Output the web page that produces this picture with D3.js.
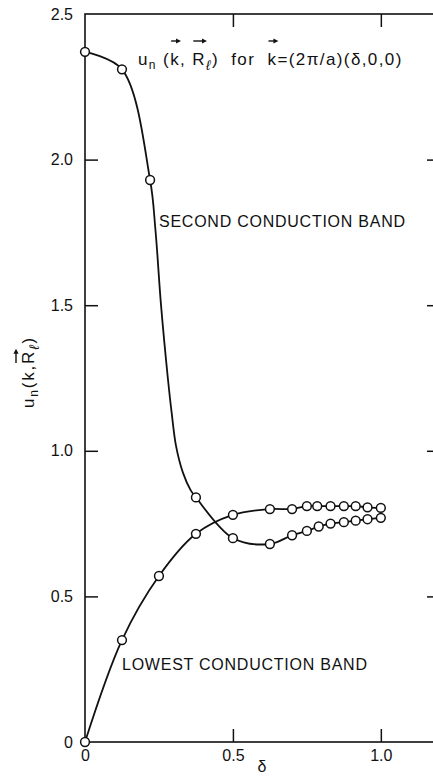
<!DOCTYPE html>
<html>
<head>
<meta charset="utf-8">
<script src="https://cdn.jsdelivr.net/npm/d3@7"></script>
<style>
  html, body { margin: 0; padding: 0; background: #fff; }
  svg { display: block; }
  text, tspan { font-family: "Liberation Sans", Arial, sans-serif; fill: #111; }
</style>
</head>
<body>
<svg id="chart" width="433" height="776"></svg>
<script>
// Reduced wavevector delta (k = (2π/a)(δ,0,0)) and u_n(k, R_l) values
const deltaSecond = [0, 0.125, 0.22, 0.375, 0.5, 0.625, 0.70, 0.75, 0.79, 0.83, 0.875, 0.915, 0.955, 1.0];
const uSecond     = [2.37, 2.31, 1.93, 0.84, 0.70, 0.68, 0.71, 0.725, 0.74, 0.75, 0.755, 0.76, 0.765, 0.77];
const deltaLowest = [0, 0.125, 0.25, 0.375, 0.5, 0.625, 0.70, 0.75, 0.785, 0.83, 0.875, 0.915, 0.955, 1.0];
const uLowest     = [0, 0.35, 0.57, 0.715, 0.78, 0.80, 0.80, 0.81, 0.81, 0.81, 0.81, 0.81, 0.806, 0.804];

// Hand-drawn curve of the second band through its steep drop
const deltaSecondCurve = [0, 0.125, 0.22, 0.238, 0.257, 0.280, 0.293, 0.308, 0.331, 0.357, 0.375, 0.5, 0.625, 0.70, 0.75, 0.79, 0.83, 0.875, 0.915, 0.955, 1.0];
const uSecondCurve     = [2.37, 2.31, 1.93, 1.76, 1.50, 1.25, 1.13, 1.015, 0.925, 0.865, 0.84, 0.70, 0.68, 0.71, 0.725, 0.74, 0.75, 0.755, 0.76, 0.765, 0.77];

// Axis ticks
const xTickValues = [0, 0.5, 1.0];
const xTickLabels = ["0", "0.5", "1.0"];
const yTickValues = [0, 0.5, 1.0, 1.5, 2.0, 2.5];
const yTickLabels = ["0", "0.5", "1.0", "1.5", "2.0", "2.5"];

const svg = d3.select("#chart");
const x = d3.scaleLinear().domain([0, 1.2]).range([85, 440]);
const y = d3.scaleLinear().domain([0, 2.5]).range([742, 14]);
const ink = "#111";

// Frame
svg.append("rect")
  .attr("x", x(0)).attr("y", y(2.5))
  .attr("width", x(1.2) - x(0)).attr("height", y(0) - y(2.5))
  .attr("fill", "none").attr("stroke", ink).attr("stroke-width", 1.6);

const tickLen = 13;
function styleAxis(g) {
  g.select(".domain").remove();
  g.selectAll(".tick line").attr("stroke", ink).attr("stroke-width", 1.5);
  g.selectAll(".tick text").attr("fill", ink).style("font-size", "16px");
}
const inner = d => d > 0 && d < 2.5;

// Left axis (inward ticks)
svg.append("g")
  .attr("transform", `translate(${x(0)},0)`)
  .call(d3.axisLeft(y).tickValues(yTickValues)
    .tickFormat((d, i) => yTickLabels[i])
    .tickSizeInner(-tickLen).tickSizeOuter(0).tickPadding(12))
  .call(styleAxis)
  .call(g => g.selectAll(".tick").filter(d => !inner(d)).select("line").remove());

// Bottom axis
svg.append("g")
  .attr("transform", `translate(0,${y(0)})`)
  .call(d3.axisBottom(x).tickValues(xTickValues)
    .tickFormat((d, i) => xTickLabels[i])
    .tickSizeInner(-tickLen).tickSizeOuter(0).tickPadding(8))
  .call(styleAxis)
  .call(g => g.selectAll(".tick").filter(d => d === 0).select("line").remove());

// Top axis ticks
svg.append("g")
  .attr("transform", `translate(0,${y(2.5)})`)
  .call(d3.axisTop(x).tickValues(xTickValues.filter(d => d > 0)).tickFormat("")
    .tickSizeInner(-tickLen).tickSizeOuter(0))
  .call(styleAxis);

// Right axis ticks
svg.append("g")
  .attr("transform", `translate(${x(1.2)},0)`)
  .call(d3.axisRight(y).tickValues(yTickValues.filter(inner)).tickFormat("")
    .tickSizeInner(-tickLen).tickSizeOuter(0))
  .call(styleAxis);

// Curves
const line = d3.line()
  .x(d => x(d[0])).y(d => y(d[1]))
  .curve(d3.curveCatmullRom.alpha(0.5));

svg.append("path")
  .datum(deltaSecondCurve.map((d, i) => [d, uSecondCurve[i]]))
  .attr("d", line).attr("fill", "none").attr("stroke", ink).attr("stroke-width", 1.8);

svg.append("path")
  .datum(deltaLowest.map((d, i) => [d, uLowest[i]]))
  .attr("d", line).attr("fill", "none").attr("stroke", ink).attr("stroke-width", 1.8);

// Open circle markers
function markers(xs, ys) {
  svg.append("g").selectAll("circle")
    .data(xs.map((d, i) => [d, ys[i]]))
    .join("circle")
    .attr("cx", d => x(d[0])).attr("cy", d => y(d[1]))
    .attr("r", 4.4)
    .attr("fill", "#fff").attr("stroke", ink).attr("stroke-width", 1.5);
}
markers(deltaSecond, uSecond);
markers(deltaLowest, uLowest);

// Vector arrow over a tspan's first character
function vecArrow(parent, tspanNode, lift) {
  const s = tspanNode.getStartPositionOfChar(0);
  const e = tspanNode.getEndPositionOfChar(0);
  const x0 = s.x + 1, x1 = e.x + 1, yy = s.y - lift;
  parent.append("line").attr("x1", x0).attr("x2", x1 - 3).attr("y1", yy).attr("y2", yy)
    .attr("stroke", ink).attr("stroke-width", 1.4);
  parent.append("path")
    .attr("d", `M${x1},${yy} L${x1 - 5},${yy - 2.6} L${x1 - 5},${yy + 2.6} Z`)
    .attr("fill", ink);
}

// Title: u_n(k, R_l) for k = (2π/a)(δ,0,0)
const tg = svg.append("g");
const title = tg.append("text").attr("x", 138).attr("y", 65)
  .style("font-size", "17px").style("letter-spacing", "1.4px").style("white-space", "pre");
title.append("tspan").text("u");
title.append("tspan").text("n").style("font-size", "12px").attr("dy", 4);
title.append("tspan").text(" (").attr("dy", -4);
const tk1 = title.append("tspan").text("k");
title.append("tspan").text(", ");
const tR = title.append("tspan").text("R");
title.append("tspan").text("ℓ").style("font-size", "14px").style("font-style", "italic").attr("dy", 5);
title.append("tspan").text(")  for  ").attr("dy", -5);
const tk2 = title.append("tspan").text("k");
title.append("tspan").text("=(2π/a)(δ,0,0)");
[tk1, tR, tk2].forEach(t => vecArrow(tg, t.node(), 24));

// Band labels
svg.append("text").attr("x", 159).attr("y", 227)
  .attr("textLength", 246).attr("lengthAdjust", "spacing")
  .style("font-size", "16px").text("SECOND CONDUCTION BAND");
svg.append("text").attr("x", 122).attr("y", 670)
  .attr("textLength", 245).attr("lengthAdjust", "spacing")
  .style("font-size", "16px").text("LOWEST CONDUCTION BAND");

// x-axis title
svg.append("text").attr("x", 262).attr("y", 772).attr("text-anchor", "middle")
  .style("font-size", "16px").text("δ");

// y-axis title (rotated)
const yg = svg.append("g").attr("transform", "translate(34,372) rotate(-90)");
const ylab = yg.append("text").attr("text-anchor", "middle")
  .style("font-size", "17px").style("letter-spacing", "1.8px").style("white-space", "pre");
ylab.append("tspan").text("u");
ylab.append("tspan").text("n").style("font-size", "12px").attr("dy", 4);
ylab.append("tspan").text("(k,").attr("dy", -4);
const yR = ylab.append("tspan").text("R");
ylab.append("tspan").text("ℓ").style("font-size", "14px").style("font-style", "italic").attr("dy", 5);
ylab.append("tspan").text(")").attr("dy", -5);
vecArrow(yg, yR.node(), 18);
</script>
</body>
</html>
